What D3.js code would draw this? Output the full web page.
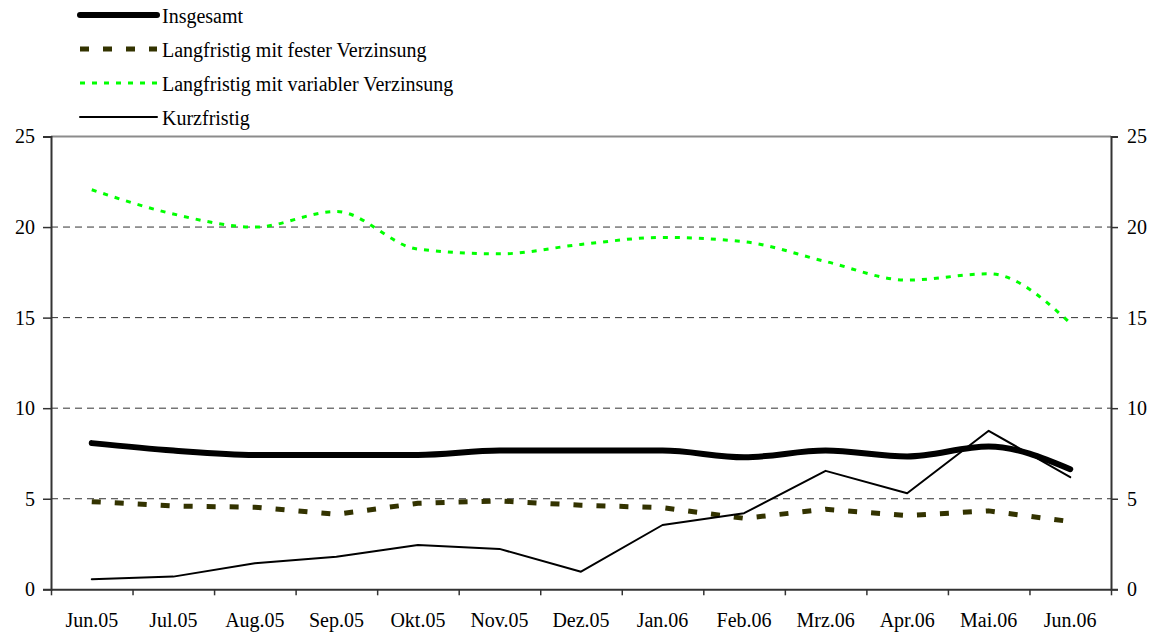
<!DOCTYPE html>
<html>
<head>
<meta charset="utf-8">
<script src="https://cdn.jsdelivr.net/npm/d3@7"></script>
</head>
<body style="margin:0;background:#fff">
<svg id="chart" width="1160" height="634" style="font-family:'Liberation Serif';font-size:20px">
<style>text { font-family: 'Liberation Serif', serif; font-size: 20px; fill: #000; }</style>
<text x="-2000" y="-2000" style="font-family:'Liberation Serif';font-size:20px">Jun.05</text>
</svg>
<script>
// Monate
const months = ['Jun.05', 'Jul.05', 'Aug.05', 'Sep.05', 'Okt.05', 'Nov.05', 'Dez.05',
  'Jan.06', 'Feb.06', 'Mrz.06', 'Apr.06', 'Mai.06', 'Jun.06'];

const insgesamt = [8.07, 7.66, 7.42, 7.42, 7.42, 7.66, 7.66, 7.66, 7.29, 7.66, 7.33, 7.88, 6.63];
const festeVerzinsung = [4.84, 4.6, 4.53, 4.14, 4.75, 4.88, 4.64, 4.51, 3.92, 4.42, 4.07, 4.33, 3.74];
const variableVerzinsung = [22.06, 20.72, 20.0, 20.86, 18.78, 18.52, 19.04, 19.43, 19.19, 18.1, 17.07, 17.42, 14.7];
const kurzfristig = [0.55, 0.7, 1.44, 1.8, 2.45, 2.23, 0.97, 3.55, 4.2, 6.54, 5.3, 8.75, 6.19];

const yTicks = [0, 5, 10, 15, 20, 25];

const series = [
  { name: 'Insgesamt', values: insgesamt, color: '#000', width: 6, dash: null, curve: d3.curveMonotoneX },
  { name: 'Langfristig mit fester Verzinsung', values: festeVerzinsung, color: '#333300', width: 5, dash: '9,14', curve: d3.curveLinear },
  { name: 'Langfristig mit variabler Verzinsung', values: variableVerzinsung, color: '#00ff00', width: 3, dash: '5,7', curve: d3.curveMonotoneX },
  { name: 'Kurzfristig', values: kurzfristig, color: '#000', width: 2, dash: null, curve: d3.curveLinear },
];

const plotLeft = 51, plotRight = 1111, plotTop = 136.5, plotBottom = 589.3;
const TEXT_STYLE = "font-family:'Liberation Serif';font-size:20px;fill:#000";

const svg = d3.select('#chart');

const x = d3.scaleBand().domain(months).range([plotLeft, plotRight]);
const xEdge = d3.scaleLinear().domain([0, months.length]).range([plotLeft, plotRight]);
const y = d3.scaleLinear().domain([0, 25]).range([plotBottom, plotTop]);

// Gitterlinien
svg.append('g')
  .selectAll('line')
  .data(yTicks.filter((t) => t > 0 && t < 25))
  .join('line')
  .attr('x1', plotLeft).attr('x2', plotRight)
  .attr('y1', (d) => y(d)).attr('y2', (d) => y(d))
  .attr('stroke', '#333')
  .attr('stroke-width', 1)
  .attr('stroke-dasharray', '7,5');

// obere Linie
svg.append('line')
  .attr('x1', plotLeft).attr('x2', plotRight)
  .attr('y1', y(25)).attr('y2', y(25))
  .attr('stroke', '#8c8c8c')
  .attr('stroke-width', 2);

// linke Achse
const yLeft = svg.append('g')
  .attr('transform', `translate(${plotLeft},0)`)
  .call(d3.axisLeft(y).tickValues(yTicks).tickSize(8).tickPadding(8));
// rechte Achse
const yRight = svg.append('g')
  .attr('transform', `translate(${plotRight},0)`)
  .call(d3.axisRight(y).tickValues(yTicks).tickSize(7).tickPadding(9));

// x-Achse: Striche an den Kategoriegrenzen
const xTicks = svg.append('g')
  .attr('transform', `translate(0,${plotBottom})`)
  .call(d3.axisBottom(xEdge).tickValues(d3.range(months.length + 1)).tickFormat('').tickSize(6).tickSizeOuter(0));
// x-Achse: Beschriftungen
const xLabels = svg.append('g')
  .attr('transform', `translate(0,${plotBottom})`)
  .call(d3.axisBottom(x).tickSize(0).tickPadding(24));
xLabels.select('.domain').remove();

[yLeft, yRight, xTicks, xLabels].forEach((g) => {
  g.attr('font-family', null).attr('font-size', null);
  g.select('.domain').attr('stroke', '#333').attr('stroke-width', 2);
  g.selectAll('.tick line').attr('stroke', '#333').attr('stroke-width', 1.5);
});

// Linien
series.forEach((s) => {
  const line = d3.line()
    .x((d, i) => x(months[i]) + x.bandwidth() / 2)
    .y((d) => y(d))
    .curve(s.curve);
  svg.append('path')
    .datum(s.values)
    .attr('d', line)
    .attr('fill', 'none')
    .attr('stroke', s.color)
    .attr('stroke-width', s.width)
    .attr('stroke-linejoin', 'round')
    .attr('stroke-linecap', s.dash ? 'butt' : 'round')
    .attr('stroke-dasharray', s.dash);
});

// Legende
const legend = svg.append('g')
  .selectAll('g')
  .data(series)
  .join('g')
  .attr('transform', (d, i) => `translate(80,${15 + i * 34})`);

legend.append('line')
  .attr('x1', 0).attr('x2', 77)
  .attr('stroke', (d) => d.color)
  .attr('stroke-width', (d) => d.width)
  .attr('stroke-linecap', (d) => (d.dash ? 'butt' : 'round'))
  .attr('stroke-dasharray', (d) => d.dash);

legend.append('text')
  .attr('x', 82)
  .attr('y', 8)
  .text((d) => d.name);

svg.selectAll('text')
  .attr('fill', null)
  .attr('style', TEXT_STYLE);
</script>
</body>
</html>
